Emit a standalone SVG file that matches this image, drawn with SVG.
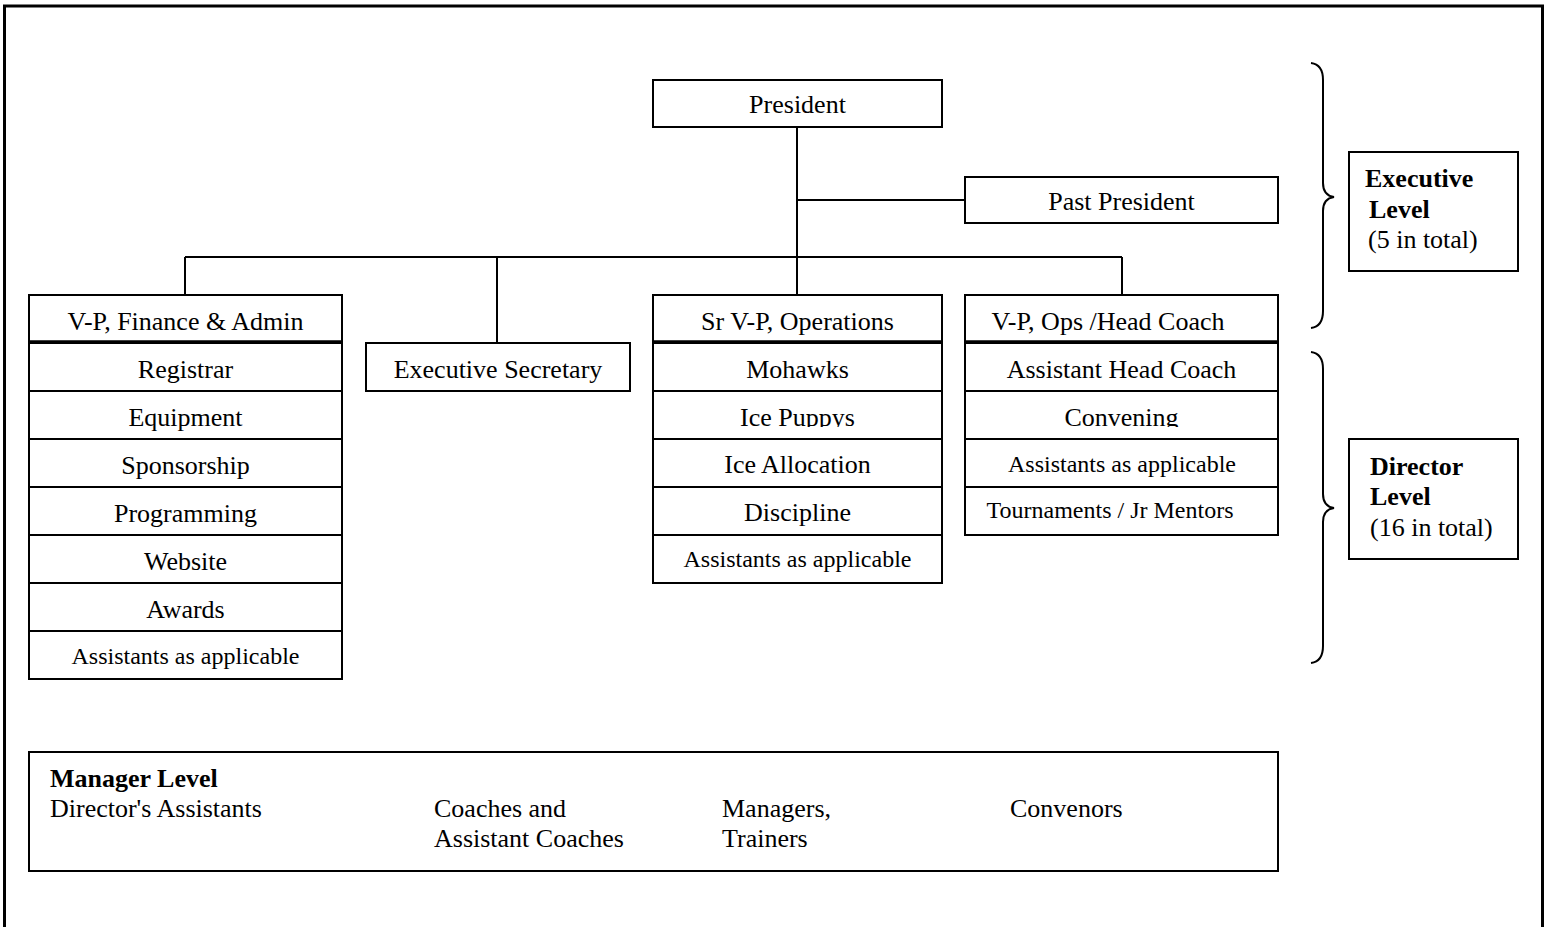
<svg xmlns="http://www.w3.org/2000/svg" width="1546" height="927" viewBox="0 0 1546 927">
<style>
.box{fill:#fff;stroke:#000;stroke-width:2}
.hdr{stroke:#000;stroke-width:3.5}
.t{font-family:"Liberation Serif","Times New Roman",serif;font-size:26px;fill:#000;text-anchor:middle}
.s{font-family:"Liberation Serif","Times New Roman",serif;font-size:24px;fill:#000;text-anchor:middle}
.l{font-family:"Liberation Serif","Times New Roman",serif;font-size:26px;fill:#000}
.b{font-weight:bold}
.ln{fill:none;stroke:#000;stroke-width:2}
</style>
<defs>
<clipPath id="c1"><rect x="653" y="391" width="290" height="36"/></clipPath>
<clipPath id="c2"><rect x="29" y="487" width="314" height="40"/></clipPath>
<clipPath id="c3"><rect x="965" y="391" width="314" height="36"/></clipPath>
</defs>
<rect x="4.5" y="6" width="1538" height="1000" fill="#fff" stroke="#000" stroke-width="3"/>

<g id="connectors">
<path class="ln" d="M797,127 V295 M797,200 H965 M185,257 H1122 M185,257 V295 M497,257 V343 M1122,257 V295"/>
</g>

<g id="president">
<rect class="box" x="653" y="80" width="289" height="47"/>
<text class="t" x="797.5" y="113">President</text>
</g>
<g id="past-president">
<rect class="box" x="965" y="177" width="313" height="46"/>
<text class="t" x="1121.5" y="210">Past President</text>
</g>

<g id="vp-finance">
<rect class="box" x="29" y="295" width="313" height="48"/>
<line class="hdr" x1="29" y1="342" x2="342" y2="342"/>
<text class="t" x="185.5" y="330">V-P, Finance &amp; Admin</text>
</g>
<g id="registrar"><rect class="box" x="29" y="343" width="313" height="48"/><text class="t" x="185.5" y="378">Registrar</text></g>
<g id="equipment"><rect class="box" x="29" y="391" width="313" height="48"/><text class="t" x="185.5" y="426">Equipment</text></g>
<g id="sponsorship"><rect class="box" x="29" y="439" width="313" height="48"/><text class="t" x="185.5" y="474">Sponsorship</text></g>
<g id="programming"><rect class="box" x="29" y="487" width="313" height="48"/><text class="t" x="185.5" y="522" clip-path="url(#c2)">Programming</text></g>
<g id="website"><rect class="box" x="29" y="535" width="313" height="48"/><text class="t" x="185.5" y="570">Website</text></g>
<g id="awards"><rect class="box" x="29" y="583" width="313" height="48"/><text class="t" x="185.5" y="618">Awards</text></g>
<g id="fin-assistants"><rect class="box" x="29" y="631" width="313" height="48"/><text class="s" x="185.5" y="664">Assistants as applicable</text></g>

<g id="exec-secretary">
<rect class="box" x="366" y="343" width="264" height="48"/>
<text class="t" x="498" y="378">Executive Secretary</text>
</g>

<g id="sr-vp-ops">
<rect class="box" x="653" y="295" width="289" height="48"/>
<line class="hdr" x1="653" y1="342" x2="942" y2="342"/>
<text class="t" x="797.5" y="330">Sr V-P, Operations</text>
</g>
<g id="mohawks"><rect class="box" x="653" y="343" width="289" height="48"/><text class="t" x="797.5" y="378">Mohawks</text></g>
<g id="ice-puppys"><rect class="box" x="653" y="391" width="289" height="48"/><text class="t" x="797.5" y="426" clip-path="url(#c1)">Ice Puppys</text></g>
<g id="ice-allocation"><rect class="box" x="653" y="439" width="289" height="48"/><text class="t" x="797.5" y="473">Ice Allocation</text></g>
<g id="discipline"><rect class="box" x="653" y="487" width="289" height="48"/><text class="t" x="797.5" y="521">Discipline</text></g>
<g id="ops-assistants"><rect class="box" x="653" y="535" width="289" height="48"/><text class="s" x="797.5" y="567">Assistants as applicable</text></g>

<g id="vp-ops-head-coach">
<rect class="box" x="965" y="295" width="313" height="48"/>
<line class="hdr" x1="965" y1="342" x2="1278" y2="342"/>
<text class="t" x="1108" y="330">V-P, Ops /Head Coach</text>
</g>
<g id="asst-head-coach"><rect class="box" x="965" y="343" width="313" height="48"/><text class="t" x="1121.5" y="378">Assistant Head Coach</text></g>
<g id="convening"><rect class="box" x="965" y="391" width="313" height="48"/><text class="t" x="1121.5" y="426" clip-path="url(#c3)">Convening</text></g>
<g id="coach-assistants"><rect class="box" x="965" y="439" width="313" height="48"/><text class="s" x="1122" y="472">Assistants as applicable</text></g>
<g id="tournaments"><rect class="box" x="965" y="487" width="313" height="48"/><text class="s" x="1110" y="518">Tournaments / Jr Mentors</text></g>

<g id="executive-brace">
<path class="ln" d="M1311,63 C1319,64 1323,70 1323,80 L1323,183 C1323,191 1327,196 1334,197 C1327,198 1323,203 1323,211 L1323,311 C1323,321 1319,327 1311,328"/>
</g>
<g id="executive-level">
<rect class="box" x="1349" y="152" width="169" height="119"/>
<text class="l b" x="1365" y="187">Executive</text>
<text class="l b" x="1369" y="218">Level</text>
<text class="l" x="1368" y="248">(5 in total)</text>
</g>

<g id="director-brace">
<path class="ln" d="M1311,352 C1319,353 1323,359 1323,369 L1323,494 C1323,502 1327,507 1334,508 C1327,509 1323,514 1323,522 L1323,646 C1323,656 1319,662 1311,663"/>
</g>
<g id="director-level">
<rect class="box" x="1349" y="439" width="169" height="120"/>
<text class="l b" x="1370" y="475">Director</text>
<text class="l b" x="1370" y="505">Level</text>
<text class="l" x="1370" y="536">(16 in total)</text>
</g>

<g id="manager-level">
<rect class="box" x="29" y="752" width="1249" height="119"/>
<text class="l b" x="50" y="787">Manager Level</text>
<text class="l" x="50" y="817">Director's Assistants</text>
<text class="l" x="434" y="817">Coaches and</text>
<text class="l" x="434" y="847">Assistant Coaches</text>
<text class="l" x="722" y="817">Managers,</text>
<text class="l" x="722" y="847">Trainers</text>
<text class="l" x="1010" y="817">Convenors</text>
</g>
</svg>
